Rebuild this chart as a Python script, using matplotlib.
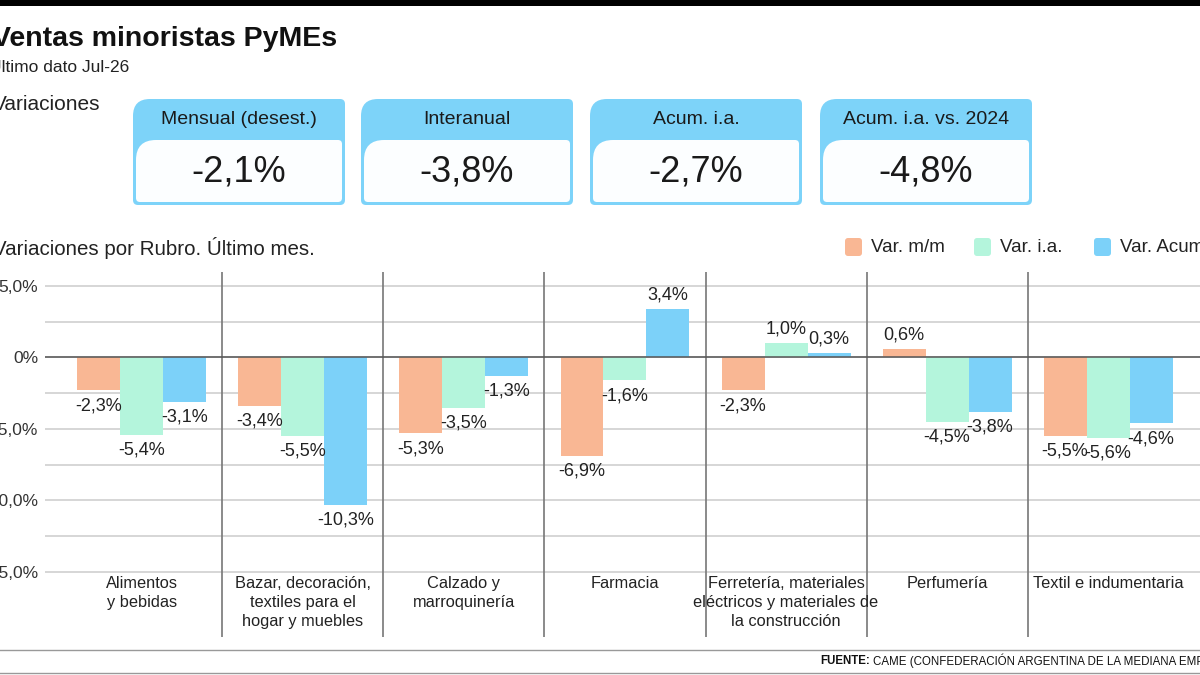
import matplotlib
matplotlib.use('Agg')
import matplotlib.pyplot as plt
from matplotlib.path import Path
from matplotlib.patches import PathPatch, FancyBboxPatch
import numpy as np

# datos
rubros = ['Alimentos\ny bebidas',
          'Bazar, decoración,\ntextiles para el\nhogar y muebles',
          'Calzado y\nmarroquinería',
          'Farmacia',
          'Ferretería, materiales\neléctricos y materiales de\nla construcción',
          'Perfumería',
          'Textil e indumentaria']
var_mm = [-2.3, -3.4, -5.3, -6.9, -2.3, 0.6, -5.5]
var_ia = [-5.4, -5.5, -3.5, -1.6, 1.0, -4.5, -5.6]
var_acum = [-3.1, -10.3, -1.3, 3.4, 0.3, -3.8, -4.6]
series = ['Var. m/m', 'Var. i.a.', 'Var. Acum. i.a.']
kpi_titulos = ['Mensual (desest.)', 'Interanual', 'Acum. i.a.', 'Acum. i.a. vs. 2024']
kpi_valores = [-2.1, -3.8, -2.7, -4.8]
y_ticks = [5, 0, -5, -10, -15]

colores = ['#F9B794', '#B4F5DC', '#7CD1F9']
azul = '#7DD3F9'
SANS = ['Liberation Sans', 'DejaVu Sans']


def pct(v):
    if v == 0:
        return '0%'
    return f'{v:.1f}'.replace('.', ',') + '%'


def caja(x0, y0, x1, y1, r_tl, r_tr, r_br, r_bl):
    verts = [(x0 + r_tl, y0), (x1 - r_tr, y0), (x1, y0), (x1, y0 + r_tr),
             (x1, y1 - r_br), (x1, y1), (x1 - r_br, y1),
             (x0 + r_bl, y1), (x0, y1), (x0, y1 - r_bl),
             (x0, y0 + r_tl), (x0, y0), (x0 + r_tl, y0), (x0 + r_tl, y0)]
    codes = [Path.MOVETO, Path.LINETO, Path.CURVE3, Path.CURVE3,
             Path.LINETO, Path.CURVE3, Path.CURVE3,
             Path.LINETO, Path.CURVE3, Path.CURVE3,
             Path.LINETO, Path.CURVE3, Path.CURVE3, Path.CLOSEPOLY]
    return Path(verts, codes)


plt.rcParams['font.family'] = SANS
fig = plt.figure(figsize=(12, 6.75), dpi=100, facecolor='white')

# capa en pixeles para textos, tarjetas y leyenda
ov = fig.add_axes([0, 0, 1, 1])
ov.set_xlim(0, 1200)
ov.set_ylim(675, 0)
ov.axis('off')

ov.add_patch(plt.Rectangle((0, 0), 1200, 6, color='black', lw=0))
ov.text(-8, 39, 'Ventas minoristas PyMEs', fontsize=20.5, fontweight='bold',
        va='center', ha='left', color='#111111')
ov.text(-11, 67, 'Último dato Jul-26', fontsize=12.5,
        va='center', ha='left', color='#222222')
ov.text(-7, 104, 'Variaciones', fontsize=15,
        va='center', ha='left', color='#222222')
ov.text(-7, 248, 'Variaciones por Rubro. Último mes.', fontsize=14.8,
        va='center', ha='left', color='#222222')

# tarjetas
x_cards = [133, 361, 590, 820]
for xc, tit, val in zip(x_cards, kpi_titulos, kpi_valores):
    ov.add_patch(PathPatch(caja(xc, 99, xc + 212, 205, 17, 5, 5, 5),
                           facecolor=azul, edgecolor='none'))
    ov.add_patch(PathPatch(caja(xc + 3, 140, xc + 209, 202, 20, 4, 4, 4),
                           facecolor='#FCFEFF', edgecolor='none'))
    ov.text(xc + 106, 119, tit, fontsize=14, ha='center', va='center',
            color='#1a1a1a')
    ov.text(xc + 106, 172, pct(val), fontsize=26, ha='center', va='center',
            color='#1a1a1a')

# leyenda
x_leg = [845, 974, 1094]
for xl, nom, col in zip(x_leg, series, colores):
    ov.add_patch(FancyBboxPatch((xl, 238), 17, 18, boxstyle='round,pad=0,rounding_size=3',
                                facecolor=col, edgecolor='none'))
    ov.text(xl + 26, 247, nom, fontsize=13.5, ha='left', va='center',
            color='#222222')

# pie
ov.plot([0, 1200], [650, 650], color='#999999', lw=1)
ov.plot([0, 1200], [673, 673], color='#999999', lw=1)
t = ov.text(820, 661, 'FUENTE:', fontsize=8.3, fontweight='bold',
            ha='left', va='center', color='#111111')
fig.canvas.draw()
bb = t.get_window_extent()
ov.text(bb.x1 + 3, 661, 'CAME (CONFEDERACIÓN ARGENTINA DE LA MEDIANA EMPRESA)',
        fontsize=8.3, ha='left', va='center', color='#111111')

# grafico de barras
ax = fig.add_axes([45 / 1200, 1 - 637 / 675, 1155 / 1200, 365 / 675])
ax.set_xlim(-0.602, 6.571)
ax.set_ylim(-19.55, 5.98)
for s in ax.spines.values():
    s.set_visible(False)

for g in np.arange(-15, 5.1, 2.5):
    ax.axhline(g, color='#cccccc', lw=1.1, zorder=0)
ax.axhline(0, color='#555555', lw=1.1, zorder=3)
for xs in np.arange(0.5, 6, 1):
    ax.axvline(xs, color='#777777', lw=1.2, zorder=1)

x = np.arange(len(rubros))
w = 0.267
for i, (vals, col) in enumerate(zip([var_mm, var_ia, var_acum], colores)):
    xpos = x + (i - 1) * w
    ax.bar(xpos, vals, width=w, color=col, zorder=2)
    for xp, v in zip(xpos, vals):
        ax.annotate(pct(v), (xp, v), xytext=(0, -11 if v < 0 else 10),
                    textcoords='offset points', ha='center', va='center',
                    fontsize=13, color='#222222', zorder=4)

ax.set_yticks(y_ticks)
ax.set_yticklabels([pct(v) for v in y_ticks], fontsize=12.5, color='#333333')
ax.tick_params(axis='y', length=0, pad=5)
ax.set_xticks([])

for xi, r in zip(x, rubros):
    ax.text(xi, -15.3, r, ha='center', va='top', fontsize=11.8,
            color='#222222', linespacing=1.34)

fig.savefig('out.png', dpi=100, facecolor='white')
